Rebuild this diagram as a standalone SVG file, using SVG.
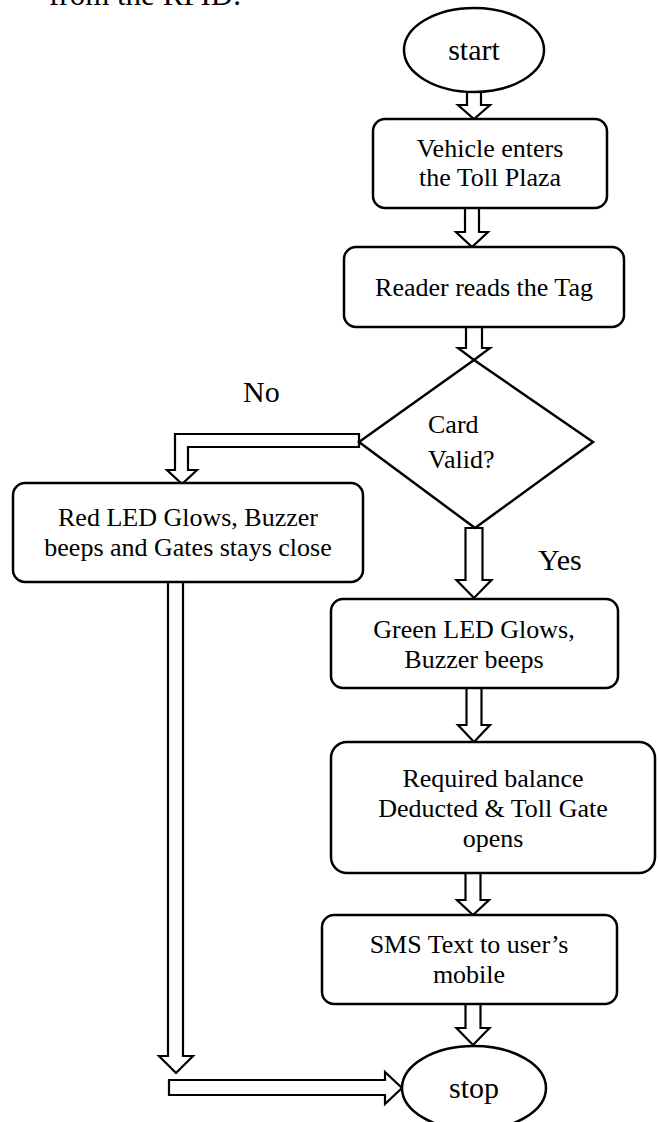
<svg xmlns="http://www.w3.org/2000/svg" width="658" height="1122" viewBox="0 0 658 1122">
<style>
.box{fill:#fff;stroke:#000;stroke-width:2.5}
.arr{fill:#fff;stroke:#000;stroke-width:2.2;stroke-linejoin:miter}
.t{font-family:"Liberation Serif","Times New Roman",serif;font-size:26px;fill:#000;text-anchor:middle}
.big{font-family:"Liberation Serif","Times New Roman",serif;font-size:30px;fill:#000}
.term{font-size:30px}
.left{text-anchor:start}
</style>
<rect width="658" height="1122" fill="#fff"/>
<text class="big" x="49" y="5" style="font-size:31px">from the RFID.</text>

<g id="connectors">
<path class="arr" d="M467,92 L481,92 L481,105 L490,105 L474,119 L458,105 L467,105 Z"/>
<path class="arr" d="M465,208 L479,208 L479,232 L488,232 L472,247 L456,232 L465,232 Z"/>
<path class="arr" d="M466,327 L482,327 L482,348 L490,348 L474,360 L458,348 L466,348 Z"/>
<path class="arr" d="M359,434 L175,434 L175,470 L167,470 L182,484 L197,470 L188,470 L188,447 L359,447 Z"/>
<path class="arr" d="M465.5,528 L482.5,528 L482.5,580 L491.5,580 L474,598 L456.5,580 L465.5,580 Z"/>
<path class="arr" d="M466.5,688 L481.5,688 L481.5,725 L490,725 L474,742 L458,725 L466.5,725 Z"/>
<path class="arr" d="M465.5,873 L480.5,873 L480.5,900 L489,900 L473,915 L457,900 L465.5,900 Z"/>
<path class="arr" d="M465.5,1004 L480.5,1004 L480.5,1028 L489.5,1028 L473,1045 L456.5,1028 L465.5,1028 Z"/>
<path class="arr" d="M168,582 L183,582 L183,1056 L193,1056 L176,1073 L159,1056 L168,1056 Z"/>
<path class="arr" d="M169,1080 L385,1080 L385,1072 L402,1088 L385,1104 L385,1095 L169,1095 Z"/>
</g>

<g id="start">
<ellipse class="box" cx="474" cy="50" rx="70" ry="42"/>
<text class="t term" x="474" y="60">start</text>
</g>

<g id="vehicle">
<rect class="box" x="373" y="119" width="234" height="89" rx="12"/>
<text class="t" x="490" y="157">Vehicle enters</text>
<text class="t" x="490" y="186">the Toll Plaza</text>
</g>

<g id="reader">
<rect class="box" x="344" y="247" width="280" height="80" rx="12"/>
<text class="t" x="484" y="296">Reader reads the Tag</text>
</g>

<g id="decision">
<polygon class="box" points="474,360 593,442 475,528 359,442"/>
<text class="t left" x="428" y="433">Card</text>
<text class="t left" x="428" y="468">Valid?</text>
</g>

<g id="no-label"><text class="big" x="243" y="402">No</text></g>
<g id="yes-label"><text class="big" x="538" y="570">Yes</text></g>

<g id="red">
<rect class="box" x="13" y="483" width="350" height="99" rx="12"/>
<text class="t" x="188" y="526">Red LED Glows, Buzzer</text>
<text class="t" x="188" y="556">beeps and Gates stays close</text>
</g>

<g id="green">
<rect class="box" x="331" y="599" width="287" height="89" rx="12"/>
<text class="t" x="474" y="638">Green LED Glows,</text>
<text class="t" x="474" y="668">Buzzer beeps</text>
</g>

<g id="deduct">
<rect class="box" x="331" y="742" width="324" height="131" rx="16"/>
<text class="t" x="493" y="787">Required balance</text>
<text class="t" x="493" y="817">Deducted &amp; Toll Gate</text>
<text class="t" x="493" y="847">opens</text>
</g>

<g id="sms">
<rect class="box" x="322" y="915" width="295" height="89" rx="12"/>
<text class="t" x="469" y="953">SMS Text to user’s</text>
<text class="t" x="469" y="983">mobile</text>
</g>

<g id="stop">
<ellipse class="box" cx="474" cy="1088" rx="72" ry="42"/>
<text class="t term" x="474" y="1098">stop</text>
</g>
</svg>
